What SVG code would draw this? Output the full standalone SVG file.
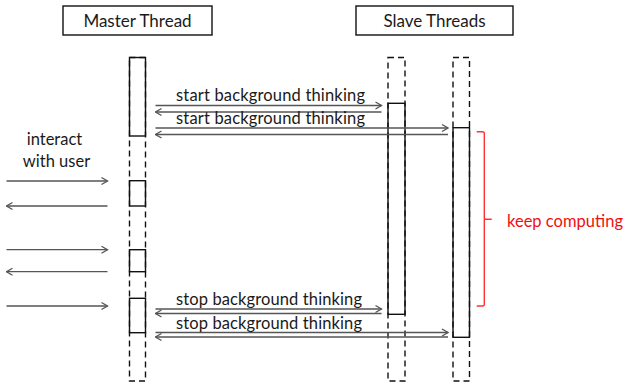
<svg xmlns="http://www.w3.org/2000/svg" width="625" height="387" viewBox="0 0 625 387">
  <style>
    .hdr { fill: #fff; stroke: #111; stroke-width: 1.4; }
    .hdr-text { font-family: Lato, "Open Sans", sans-serif; font-size: 17px; fill: #1a1a1a; text-anchor: middle; }
    .life-dash { fill: none; stroke: #111; stroke-width: 1.4; stroke-dasharray: 6 4; }
    .life-solid { fill: none; stroke: #111; stroke-width: 1.4; }
    .msg { stroke: #555; stroke-width: 1.3; fill: none; marker-end: url(#head); }
    .lbl { font-family: Lato, "Open Sans", sans-serif; font-size: 16.5px; fill: #1a1a1a; }
    .note { font-family: Lato, "Open Sans", sans-serif; font-size: 16.5px; fill: #f01010; }
    .bracket { fill: none; stroke: #f33; stroke-width: 1.4; stroke-linejoin: round; }
  </style>
  <defs>
    <marker id="head" viewBox="0 0 10 10" refX="9" refY="5" markerWidth="10" markerHeight="10" markerUnits="userSpaceOnUse" orient="auto">
      <path d="M3,1.5 L9,5 L3,8.5" fill="none" stroke="#555" stroke-width="1.3"/>
    </marker>
  </defs>

  <!-- thread headers -->
  <g id="master-header">
    <rect class="hdr" x="63" y="6" width="149" height="29"/>
    <text class="hdr-text" x="137.5" y="26.5">Master Thread</text>
  </g>
  <g id="slave-header">
    <rect class="hdr" x="356" y="6" width="157" height="29"/>
    <text class="hdr-text" x="434.5" y="26.5">Slave Threads</text>
  </g>

  <!-- master lifeline: idle parts dashed, active parts solid -->
  <g id="master-lifeline">
    <rect class="life-dash" x="129.5" y="57.5" width="16" height="323.5"/>
    <rect class="life-solid" x="129.5" y="57.5" width="16" height="78.5"/>
    <rect class="life-solid" x="129.5" y="180.7" width="16" height="25.3"/>
    <rect class="life-solid" x="129.5" y="249.7" width="16" height="22"/>
    <rect class="life-solid" x="129.5" y="298.3" width="16" height="34.4"/>
  </g>

  <!-- slave lifelines -->
  <g id="slave1-lifeline">
    <rect class="life-dash" x="388" y="57.5" width="17" height="323.5"/>
    <rect class="life-solid" x="388" y="103.3" width="17" height="211"/>
  </g>
  <g id="slave2-lifeline">
    <rect class="life-dash" x="453" y="57.5" width="16.5" height="323.5"/>
    <rect class="life-solid" x="453" y="127.7" width="16.5" height="209.6"/>
  </g>

  <!-- messages -->
  <g id="connectors">
    <line class="msg" x1="155.5" y1="105.5" x2="381.5" y2="105.5"/>
    <line class="msg" x1="381.5" y1="112" x2="155.5" y2="112"/>
    <line class="msg" x1="155.5" y1="128" x2="448" y2="128"/>
    <line class="msg" x1="448" y1="134.5" x2="155.5" y2="134.5"/>

    <line class="msg" x1="6.5" y1="181" x2="107.5" y2="181"/>
    <line class="msg" x1="107.5" y1="206" x2="6.5" y2="206"/>
    <line class="msg" x1="6.5" y1="249.7" x2="107.5" y2="249.7"/>
    <line class="msg" x1="107.5" y1="271.7" x2="6.5" y2="271.7"/>
    <line class="msg" x1="6.5" y1="306" x2="107.5" y2="306"/>

    <line class="msg" x1="155.5" y1="309" x2="381.5" y2="309"/>
    <line class="msg" x1="381.5" y1="313.5" x2="155.5" y2="313.5"/>
    <line class="msg" x1="155.5" y1="332.5" x2="448" y2="332.5"/>
    <line class="msg" x1="448" y1="337" x2="155.5" y2="337"/>
  </g>

  <!-- message labels -->
  <g id="labels">
    <text class="lbl" x="176" y="100.5" textLength="189">start background thinking</text>
    <text class="lbl" x="176" y="124" textLength="189">start background thinking</text>
    <text class="lbl" x="176" y="305" textLength="186">stop background thinking</text>
    <text class="lbl" x="176" y="328.5" textLength="186">stop background thinking</text>
    <text class="lbl" x="54.5" y="145" text-anchor="middle">interact</text>
    <text class="lbl" x="56.5" y="167" text-anchor="middle">with user</text>
  </g>

  <!-- keep computing annotation -->
  <g id="keep-computing">
    <path class="bracket" d="M476.7,131.7 L482.5,131.7 Q484.3,131.7 484.3,133.5 L484.3,304.2 Q484.3,306 482.5,306 L476.7,306 M484.3,219.3 L491.7,219.3"/>
    <text class="note" x="507" y="226.5" textLength="116">keep computing</text>
  </g>
</svg>
